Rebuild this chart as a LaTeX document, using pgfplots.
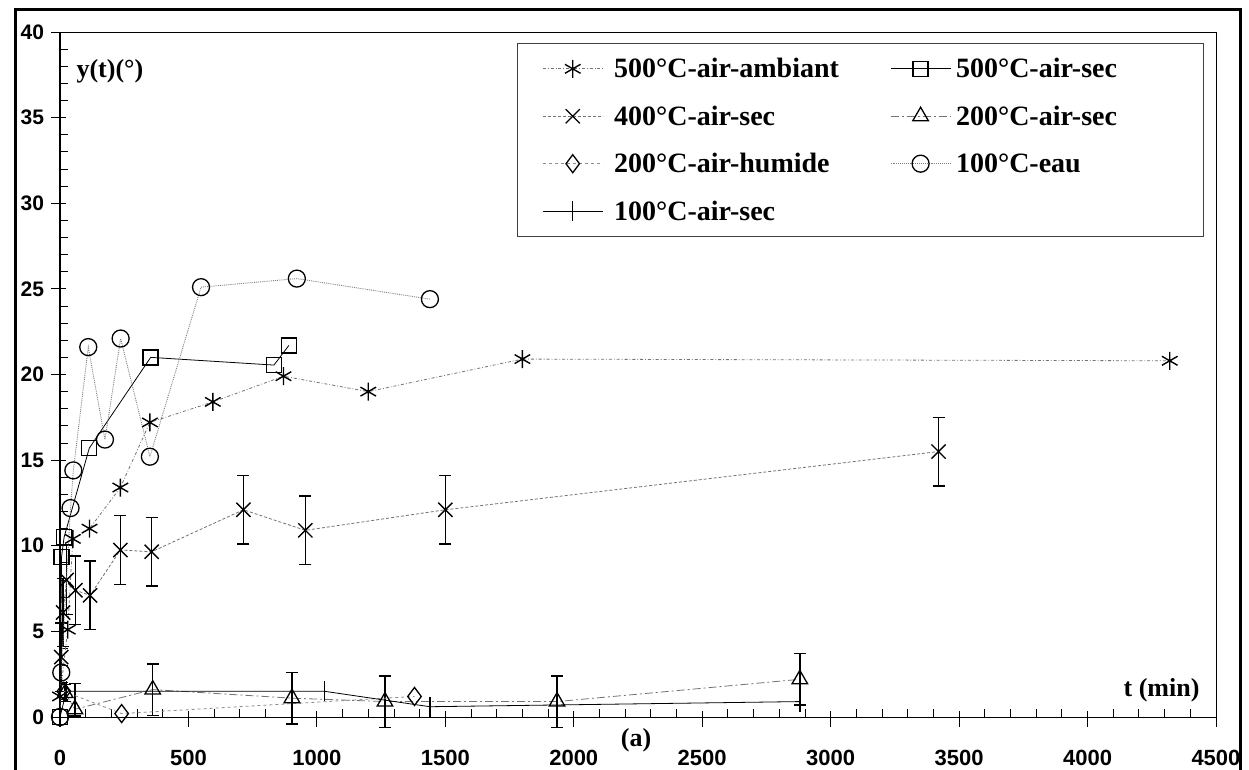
\documentclass[border=0pt]{standalone}
\usepackage{pgfplots}
\pgfplotsset{compat=1.18}
\usepackage{fontspec}
\setmainfont{Liberation Serif}
\setsansfont{Liberation Sans}
\newcommand\lbl{\fontsize{26}{26}\selectfont\bfseries}
\begin{document}
\begin{tikzpicture}[x=1pt,y=1pt]
\useasboundingbox (0,0) rectangle (1249,770);
\fill[white] (0,0) rectangle (1249,770);
\draw[line width=3pt] (15,-5) -- (15,760) -- (1240,760) -- (1240,-5);
\begin{axis}[
  at={(60pt,53pt)}, anchor=south west,
  scale only axis, width=1156pt, height=685pt,
  xmin=0, xmax=4500, ymin=0, ymax=40,
  clip=false,
  axis line style={line width=0.8pt},
  xtick={0,500,...,4500}, ytick={0,5,...,40},
  minor x tick num=4, minor y tick num=4,
  tick pos=left,
  tick align=center,
  major tick length=15pt, minor tick length=8pt,
  every tick/.style={black, line width=0.9pt},
  minor x tick style={yshift=4pt},
  minor y tick style={xshift=4pt},
  major x tick style={yshift=-2pt},
  major y tick style={xshift=-1.5pt},
  /pgf/number format/assume math mode=true,
  /pgf/number format/1000 sep={},
  xticklabel style={font=\fontsize{22}{22}\selectfont\sffamily\bfseries, yshift=-22pt},
  yticklabel style={font=\fontsize{21}{21}\selectfont\sffamily\bfseries, xshift=-5pt},
  legend columns=2,
  legend cell align=left,
  legend style={at={(0.3953,0.984)}, anchor=north west,
    draw=black!75, line width=0.8pt,
    font=\fontsize{28}{28}\selectfont\bfseries,
    inner xsep=25pt, inner ysep=13pt, row sep=22.5pt},
  legend image code/.code={\draw[mark repeat=2,mark phase=2,#1] plot coordinates {(0pt,0pt) (30pt,0pt) (60pt,0pt)};},
  error bars/error bar style={line width=1.4pt, solid, black},
  error bars/error mark options={rotate=90, mark size=6pt, line width=1.4pt, black, solid},
]
\draw[line width=2.6pt] (rel axis cs:0,0) -- (rel axis cs:0,1);

% 500C air ambiant
\addplot[black!55, line width=0.8pt, dash dot, mark=asterisk, mark size=9pt,
  mark options={solid, black, line width=1.4pt}]
  coordinates {(0,1.2) (30,5.1) (50,10.4) (115,11.0) (235,13.4) (350,17.2) (595,18.4) (870,19.9) (1200,19.0) (1800,20.9) (4320,20.8)};
\addlegendentry{\makebox[283pt][l]{\hspace{9pt}500°C-air-ambiant}}

% 500C air sec
\addplot[black, line width=0.8pt, mark=square, mark size=7.5pt,
  mark options={solid, black, fill=white, line width=1.4pt}]
  coordinates {(0,0) (6,9.35) (16,10.5) (114,15.7) (353,21.0) (833,20.55) (891,21.7)};
\addlegendentry{\makebox[223pt][l]{\hspace{3pt}500°C-air-sec}}

% 400C air sec
\addplot[black!55, line width=0.8pt, densely dashed, mark=x, mark size=10pt,
  mark options={solid, black, line width=1.4pt},
  error bars/.cd, y dir=both, y explicit]
  table[x=t, y=y, y error=e] {
t y e
5 3.5 2
12 6.1 2
26 8.0 2
60 7.4 2
117 7.1 2
235 9.75 2
357 9.65 2
714 12.1 2
955 10.9 2
1500 12.1 2
3420 15.5 2
};
\addlegendentry{\makebox[283pt][l]{\hspace{9pt}400°C-air-sec}}

% 200C air sec
\addplot[black!55, line width=0.8pt, dash pattern=on 8pt off 3pt on 2pt off 3pt, mark=triangle, mark size=9pt,
  mark options={solid, black, fill=white, line width=1.3pt},
  error bars/.cd, y dir=both, y explicit]
  table[x=t, y=y, y error plus=ep, y error minus=em] {
t y ep em
20 1.4 0.5 0.5
58 0.45 1.5 0.4
361 1.6 1.5 1.5
903 1.1 1.5 1.5
1265 0.9 1.5 1.5
1935 0.9 1.5 1.5
2880 2.2 1.5 1.5
};
\addlegendentry{\makebox[223pt][l]{\hspace{3pt}200°C-air-sec}}

% 200C air humide
\addplot[black!45, line width=0.8pt, dashed, mark=diamond, mark size=9pt,
  mark options={solid, black, fill=white, line width=1.3pt}]
  coordinates {(15,1.5) (240,0.2) (1380,1.2)};
\addlegendentry{\makebox[283pt][l]{\hspace{9pt}200°C-air-humide}}

% 100C eau
\addplot[black!50, line width=0.9pt, densely dotted, mark=o, mark size=8.5pt,
  mark options={solid, black, fill=white, line width=1.3pt}]
  coordinates {(0,0) (5,2.6) (41,12.2) (52,14.4) (110,21.6) (175,16.2) (236,22.1) (350,15.2) (549,25.1) (922,25.6) (1440,24.4)};
\addlegendentry{\makebox[223pt][l]{\hspace{3pt}100°C-eau}}

% 100C air sec
\addplot[black, line width=0.8pt, mark=|, mark size=10pt,
  mark options={solid, black, line width=1.4pt}]
  coordinates {(0,0) (25,1.5) (1030,1.5) (1440,0.6) (2880,0.9)};
\addlegendentry{\makebox[283pt][l]{\hspace{9pt}100°C-air-sec}}
\end{axis}
\node[anchor=west, font=\lbl] at (73,699) {y(t)(°)};
\node[anchor=east, font=\lbl] at (1203,80) {t (min)};
\node[font=\lbl] at (636,30) {(a)};
\end{tikzpicture}
\end{document}
